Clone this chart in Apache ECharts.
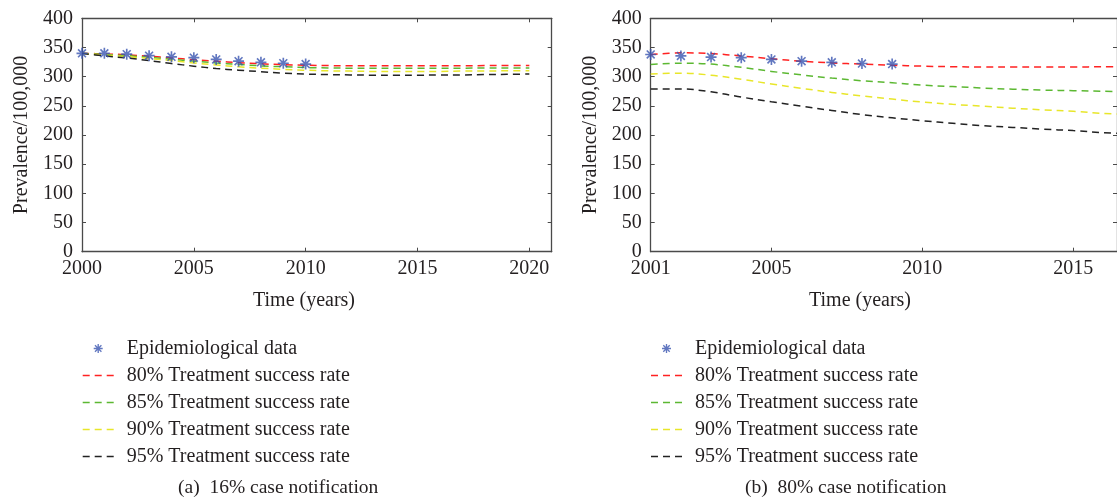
<!DOCTYPE html>
<html>
<head>
<meta charset="utf-8">
<script src="https://cdn.jsdelivr.net/npm/echarts@6/dist/echarts.min.js"></script>
<style>html,body{margin:0;padding:0;background:#fff}#c{width:1117px;height:502px}</style>
</head>
<body>
<div id="c"></div>
<script>
// ---------- data ----------
const seriesNames = ['Epidemiological data', '80% Treatment success rate', '85% Treatment success rate', '90% Treatment success rate', '95% Treatment success rate'];
const yTicks = [0, 50, 100, 150, 200, 250, 300, 350, 400];

// (a) 16% case notification
const xTicksA = [2000, 2005, 2010, 2015, 2020];
const yearsA = [2000, 2001, 2002, 2003, 2004, 2005, 2006, 2007, 2008, 2009, 2010, 2011, 2012, 2013, 2014, 2015, 2016, 2017, 2018, 2019, 2020];
const obsYearsA = [2000, 2001, 2002, 2003, 2004, 2005, 2006, 2007, 2008, 2009, 2010];
const obsA = [340, 340, 338.5, 336, 334, 332.5, 329.5, 326.5, 324.5, 323, 321.5];
const tsr80A = [340, 339, 337.5, 335, 332, 329, 326.5, 324, 322, 320.5, 319.5, 319, 318.5, 318.5, 318.5, 318.5, 318.5, 318.5, 319, 319, 319];
const tsr85A = [340, 338, 336, 333, 330, 326.5, 323.5, 321, 318.5, 317, 315.5, 315, 314.5, 314.5, 314.5, 314.5, 314.5, 314.5, 315, 315, 315];
const tsr90A = [340, 337, 334.5, 331, 327.5, 323.5, 320, 317, 314.5, 312.5, 311, 310, 309.5, 309, 309, 309, 309, 309.5, 309.5, 310, 310];
const tsr95A = [340, 335.5, 332, 327.5, 322.5, 318, 314, 311, 308.5, 306, 304.5, 303.5, 303, 302.5, 302.5, 302.5, 303, 303, 303.5, 304, 304.5];

// (b) 80% case notification
const xTicksB = [2001, 2005, 2010, 2015];
const yearsB = [2001, 2002, 2003, 2004, 2005, 2006, 2007, 2008, 2009, 2010, 2011, 2012, 2013, 2014, 2015, 2016, 2017];
const obsYearsB = [2001, 2002, 2003, 2004, 2005, 2006, 2007, 2008, 2009];
const obsB = [338, 335.5, 333.5, 332.5, 329.5, 326.5, 324.5, 322.5, 321.5];
const tsr80B = [337.5, 341, 339.5, 335.5, 330.5, 326.5, 323.5, 321.5, 319.5, 318, 317, 316.5, 316.5, 316.5, 316.5, 317, 317];
const tsr85B = [321, 323, 321.5, 316, 309, 303, 297.5, 293, 289.5, 285.5, 283, 280.5, 278.5, 277, 276, 275, 274];
const tsr90B = [304.5, 306, 302.5, 295.5, 287.5, 280, 273, 267, 261.5, 256.5, 252.5, 249.5, 246, 243, 240.5, 237, 235];
const tsr95B = [279, 279, 274, 265, 257, 249.5, 242, 235, 229.5, 224.5, 220, 216, 213, 210, 207.5, 204, 201.5];

const captions = ['(a)  16% case notification', '(b)  80% case notification'];
const xName = 'Time (years)';
const yName = 'Prevalence/100,000';

// ---------- styles ----------
const FONT = 'Liberation Serif';
const TXT = '#231f20';
const FRAME = '#4a4a4a';
const lineColors = ['#ff2222', '#5cb832', '#e8e62a', '#222222'];
const starColor = '#3a55b0';
const STAR = 'path://M0 8.5H20V11.5H0Z M8.5 0H11.5V20H8.5Z M1.8 3.9L3.9 1.8L18.2 16.1L16.1 18.2Z M16.1 1.8L18.2 3.9L3.9 18.2L1.8 16.1Z';
const DASH_ICON = 'path://M0 0H7V1.6H0Z M12 0H19V1.6H12Z M24 0H31V1.6H24Z';

const zip = (xs, ys) => xs.map((x, i) => [x, ys[i]]);

const grids = [
  { left: 82, top: 18.3, width: 469.7, height: 233.4 },
  { left: 650.7, top: 18.3, width: 467.3, height: 233.4 }
];
const xRanges = [[2000, 2021], [2001, 2016.45]];
const xTickSets = [xTicksA, xTicksB];

const xAxes = [], yAxes = [];
[0, 1].forEach(g => {
  ['bottom', 'top'].forEach(pos => {
    xAxes.push({
      type: 'value', gridIndex: g, position: pos,
      min: xRanges[g][0], max: xRanges[g][1],
      axisLine: { show: true, onZero: false, lineStyle: { color: FRAME, width: 1.3 } },
      axisTick: { show: true, inside: true, length: 4, customValues: xTickSets[g], lineStyle: { color: FRAME, width: 1 } },
      axisLabel: {
        show: pos === 'bottom', customValues: xTickSets[g], margin: 7,
        color: TXT, fontFamily: FONT, fontSize: 20,
        formatter: v => String(v)
      },
      splitLine: { show: false }
    });
  });
  ['left', 'right'].forEach(pos => {
    yAxes.push({
      type: 'value', gridIndex: g, position: pos,
      min: 0, max: 400, interval: 50,
      name: pos === 'left' ? yName : '', nameLocation: 'middle', nameGap: 50,
      nameTextStyle: { color: TXT, fontFamily: FONT, fontSize: 20 },
      axisLine: { show: true, onZero: false, lineStyle: { color: FRAME, width: 1.3 } },
      axisTick: { show: true, inside: true, length: 4, lineStyle: { color: FRAME, width: 1 } },
      axisLabel: { show: pos === 'left', margin: 9, color: TXT, fontFamily: FONT, fontSize: 20, formatter: v => String(v) },
      splitLine: { show: false }
    });
  });
});

const lineSets = [[tsr80A, tsr85A, tsr90A, tsr95A], [tsr80B, tsr85B, tsr90B, tsr95B]];
const yearSets = [yearsA, yearsB];
const obsSets = [[obsYearsA, obsA], [obsYearsB, obsB]];

const series = [];
[0, 1].forEach(g => {
  lineSets[g].forEach((vals, i) => {
    series.push({
      name: seriesNames[i + 1], type: 'line',
      xAxisIndex: g * 2, yAxisIndex: g * 2,
      data: zip(yearSets[g], vals),
      smooth: 0.35, showSymbol: false, symbol: 'none',
      lineStyle: { color: lineColors[i], width: 1.5, type: [7, 5] },
      itemStyle: { color: lineColors[i] },
      z: 3, animation: false, silent: true
    });
  });
  series.push({
    name: seriesNames[0], type: 'scatter',
    xAxisIndex: g * 2, yAxisIndex: g * 2,
    data: zip(obsSets[g][0], obsSets[g][1]),
    symbol: STAR, symbolSize: 11,
    itemStyle: { color: starColor },
    z: 5, animation: false, silent: true
  });
});

const legendCommon = {
  orient: 'vertical', itemWidth: 31, itemHeight: 9, itemGap: 7, padding: 0,
  textStyle: { color: TXT, fontFamily: FONT, fontSize: 20, lineHeight: 20, padding: [0, 0, 0, 8] },
  data: [
    { name: seriesNames[0], icon: STAR },
    { name: seriesNames[1], icon: DASH_ICON },
    { name: seriesNames[2], icon: DASH_ICON },
    { name: seriesNames[3], icon: DASH_ICON },
    { name: seriesNames[4], icon: DASH_ICON }
  ],
  selectedMode: false
};

const option = {
  backgroundColor: '#ffffff',
  animation: false,
  grid: grids,
  xAxis: xAxes,
  yAxis: yAxes,
  series: series,
  legend: [
    Object.assign({}, legendCommon, { left: 82.7, top: 338.5 }),
    Object.assign({}, legendCommon, { left: 651, top: 338.5 })
  ],
  title: [
    { text: captions[0], left: 178, top: 478, padding: 0, textStyle: { color: TXT, fontFamily: FONT, fontSize: 19.5, fontWeight: 'normal' } },
    { text: captions[1], left: 745, top: 478, padding: 0, textStyle: { color: TXT, fontFamily: FONT, fontSize: 19.5, fontWeight: 'normal' } }
  ],
  graphic: [
    { type: 'text', left: 253, top: 291, style: { text: xName, fill: TXT, font: '20px "Liberation Serif"' } },
    { type: 'text', left: 809, top: 291, style: { text: xName, fill: TXT, font: '20px "Liberation Serif"' } }
  ]
};

const chart = echarts.init(document.getElementById('c'), null, { renderer: 'canvas' });
chart.setOption(option);
</script>
</body>
</html>
